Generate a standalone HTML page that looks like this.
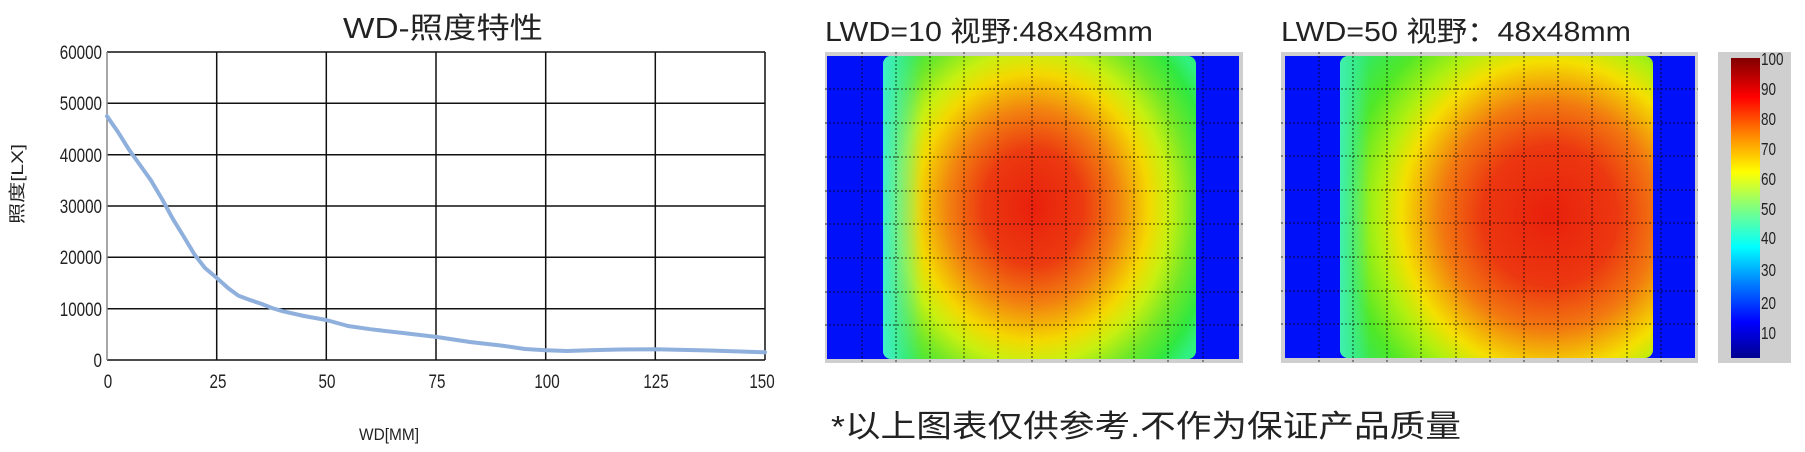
<!DOCTYPE html>
<html><head><meta charset="utf-8"><style>
body{margin:0;background:#fff;width:1805px;height:452px;overflow:hidden;position:relative;font-family:"Liberation Sans","Noto Sans CJK SC",sans-serif}
.a{position:absolute}
</style></head><body>
<!-- heatmap 1 -->
<div class="a" style="left:825px;top:52px;width:418px;height:311px;background:#cfcfcf"></div>
<div class="a" style="left:827px;top:56px;width:412px;height:303px;background:#0010f8"></div>
<div class="a" style="left:883px;top:56px;width:313px;height:303px;border-radius:8px;background:radial-gradient(ellipse 200px 230px at 150px 151px,#e8200c 0%,#ec3a10 25%,#f28010 42%,#f4d800 58%,#c8f010 68%,#70e828 80%,#30e840 92%,#30f080 100%)"></div>
<div class="a" style="left:883px;top:56px;width:40px;height:303px;border-radius:8px 0 0 8px;background:linear-gradient(90deg,#40f0c8,rgba(60,235,100,0))"></div>
<!-- heatmap 2 -->
<div class="a" style="left:1281px;top:52px;width:417px;height:311px;background:#cfcfcf"></div>
<div class="a" style="left:1285px;top:56px;width:410px;height:302px;background:#0010f8"></div>
<div class="a" style="left:1340px;top:56px;width:313px;height:302px;border-radius:8px;background:radial-gradient(ellipse 240px 250px at 210px 160px,#e8200c 0%,#ec3810 28%,#f27810 45%,#f4e000 62%,#b0f010 72%,#50e828 86%,#30e860 100%)"></div>
<div class="a" style="left:1340px;top:56px;width:30px;height:302px;border-radius:8px 0 0 8px;background:linear-gradient(90deg,#40f0b0,rgba(60,235,100,0))"></div>
<!-- colorbar -->
<div class="a" style="left:1718px;top:52px;width:73px;height:311px;background:#cfcfcf"></div>
<div class="a" style="left:1731px;top:58px;width:29px;height:300px;background:linear-gradient(0deg,#00008f 0%,#0000ff 12%,#0080ff 25%,#00ffff 37%,#80ff80 50%,#ffff00 62%,#ff8000 75%,#ff0000 87%,#800000 100%)"></div>

<svg class="a" style="left:0;top:0" width="1805" height="452" xmlns="http://www.w3.org/2000/svg">
<g font-family="Liberation Sans, Noto Sans CJK SC, sans-serif" fill="#222">
<text x="443" y="38" font-size="29" text-anchor="middle" textLength="200" lengthAdjust="spacingAndGlyphs">WD-照度特性</text>
<g stroke="#111" stroke-width="1.5">
<line x1="107" y1="52" x2="765" y2="52"/><line x1="107" y1="103.3" x2="765" y2="103.3"/><line x1="107" y1="154.7" x2="765" y2="154.7"/><line x1="107" y1="206" x2="765" y2="206"/><line x1="107" y1="257.3" x2="765" y2="257.3"/><line x1="107" y1="308.7" x2="765" y2="308.7"/><line x1="107" y1="360" x2="765" y2="360"/>
<line x1="216.7" y1="52" x2="216.7" y2="360"/><line x1="326.3" y1="52" x2="326.3" y2="360"/><line x1="436" y1="52" x2="436" y2="360"/><line x1="545.7" y1="52" x2="545.7" y2="360"/><line x1="655.3" y1="52" x2="655.3" y2="360"/><line x1="765" y1="52" x2="765" y2="360"/>
</g>
<line x1="107" y1="52" x2="107" y2="360" stroke="#888" stroke-width="1.5"/>
<polyline fill="none" stroke="#8fb0dc" stroke-width="4" stroke-linejoin="round" stroke-linecap="round" points="107,116.2 118,132 128.9,149.5 140,165 150.9,180.3 162,199 172.8,218.8 184,237 194.7,254.8 205,268 216.7,277.9 228,288 238.6,295.8 250,300 260.5,303.5 272,308 282.5,311.2 304,316 326.3,320 348,326 370.2,329.2 403,333 436,336.9 470,342 501.8,345.6 525,349 545.7,350.2 567,351 589.5,350.2 620,349.5 655.3,349.2 710,350.5 765,352.3"/>
<g font-size="19">
<g transform="translate(102,0) scale(0.8,1)" text-anchor="end">
<text x="0" y="59">60000</text><text x="0" y="110">50000</text><text x="0" y="162">40000</text><text x="0" y="213">30000</text><text x="0" y="264">20000</text><text x="0" y="316">10000</text><text x="0" y="367">0</text>
</g>
<g text-anchor="middle">
<text transform="translate(108,388) scale(0.8,1)">0</text><text transform="translate(218,388) scale(0.8,1)">25</text><text transform="translate(327,388) scale(0.8,1)">50</text><text transform="translate(437,388) scale(0.8,1)">75</text><text transform="translate(547,388) scale(0.8,1)">100</text><text transform="translate(656,388) scale(0.8,1)">125</text><text transform="translate(762,388) scale(0.8,1)">150</text>
</g>
</g>
<text x="389" y="440" font-size="17" text-anchor="middle" textLength="60" lengthAdjust="spacingAndGlyphs">WD[MM]</text>
<text transform="translate(23,184) rotate(-90)" font-size="17" text-anchor="middle" textLength="80" lengthAdjust="spacingAndGlyphs">照度[LX]</text>
<text x="825" y="41" font-size="28" textLength="328" lengthAdjust="spacingAndGlyphs">LWD=10  视野:48x48mm</text>
<text x="1281" y="41" font-size="28" textLength="350" lengthAdjust="spacingAndGlyphs">LWD=50  视野：48x48mm</text>
<text x="831" y="437" font-size="31" textLength="630" lengthAdjust="spacingAndGlyphs">*以上图表仅供参考.不作为保证产品质量</text>
<g stroke="#000" stroke-width="1" stroke-dasharray="2,2" opacity="0.75">
<line x1="862" y1="52" x2="862" y2="363"/><line x1="896" y1="52" x2="896" y2="363"/><line x1="930" y1="52" x2="930" y2="363"/><line x1="964" y1="52" x2="964" y2="363"/><line x1="998" y1="52" x2="998" y2="363"/><line x1="1032" y1="52" x2="1032" y2="363"/><line x1="1066" y1="52" x2="1066" y2="363"/><line x1="1100" y1="52" x2="1100" y2="363"/><line x1="1134" y1="52" x2="1134" y2="363"/><line x1="1168" y1="52" x2="1168" y2="363"/><line x1="1203" y1="52" x2="1203" y2="363"/>
<line x1="825" y1="89" x2="1243" y2="89"/><line x1="825" y1="123" x2="1243" y2="123"/><line x1="825" y1="157" x2="1243" y2="157"/><line x1="825" y1="191" x2="1243" y2="191"/><line x1="825" y1="224" x2="1243" y2="224"/><line x1="825" y1="258" x2="1243" y2="258"/><line x1="825" y1="292" x2="1243" y2="292"/><line x1="825" y1="325" x2="1243" y2="325"/>
<line x1="1319" y1="52" x2="1319" y2="363"/><line x1="1353" y1="52" x2="1353" y2="363"/><line x1="1387" y1="52" x2="1387" y2="363"/><line x1="1421" y1="52" x2="1421" y2="363"/><line x1="1456" y1="52" x2="1456" y2="363"/><line x1="1490" y1="52" x2="1490" y2="363"/><line x1="1524" y1="52" x2="1524" y2="363"/><line x1="1558" y1="52" x2="1558" y2="363"/><line x1="1592" y1="52" x2="1592" y2="363"/><line x1="1627" y1="52" x2="1627" y2="363"/><line x1="1661" y1="52" x2="1661" y2="363"/>
<line x1="1281" y1="89" x2="1698" y2="89"/><line x1="1281" y1="123" x2="1698" y2="123"/><line x1="1281" y1="156" x2="1698" y2="156"/><line x1="1281" y1="190" x2="1698" y2="190"/><line x1="1281" y1="223" x2="1698" y2="223"/><line x1="1281" y1="257" x2="1698" y2="257"/><line x1="1281" y1="291" x2="1698" y2="291"/><line x1="1281" y1="324" x2="1698" y2="324"/>
</g>
<g font-size="18">
<text transform="translate(1761,65) scale(0.75,1)">100</text><text transform="translate(1761,95) scale(0.75,1)">90</text><text transform="translate(1761,125) scale(0.75,1)">80</text><text transform="translate(1761,155) scale(0.75,1)">70</text><text transform="translate(1761,185) scale(0.75,1)">60</text><text transform="translate(1761,215) scale(0.75,1)">50</text><text transform="translate(1761,244) scale(0.75,1)">40</text><text transform="translate(1761,276) scale(0.75,1)">30</text><text transform="translate(1761,309) scale(0.75,1)">20</text><text transform="translate(1761,339) scale(0.75,1)">10</text>
</g>
</g>
</svg>
</body></html>
